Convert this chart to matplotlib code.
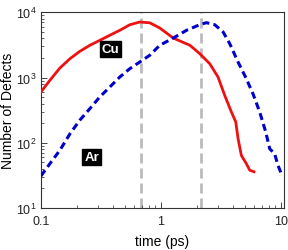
import numpy as np
import matplotlib
matplotlib.use("Agg")
import matplotlib.pyplot as plt
from matplotlib.ticker import LogLocator, FixedLocator, FixedFormatter, NullFormatter

plt.rcParams['font.family'] = ['Liberation Sans', 'DejaVu Sans']
plt.rcParams['mathtext.fontset'] = 'custom'
plt.rcParams['mathtext.rm'] = 'Liberation Sans'
plt.rcParams['mathtext.it'] = 'Liberation Sans'

# Cu cascade (solid red)
cu_t = [0.1, 0.119, 0.144, 0.175, 0.211, 0.256, 0.31, 0.376, 0.455, 0.552, 0.668,
        0.81, 0.98, 1.27, 1.75, 2.11, 2.56, 3.0, 3.41, 3.88, 4.22, 4.41, 4.7,
        5.17, 5.52, 5.99]
cu_n = [600, 910, 1400, 1950, 2520, 3120, 3720, 4450, 5300, 6450, 7100,
        6900, 5750, 4030, 3120, 2330, 1630, 1020, 536, 297, 209, 116, 64,
        48, 38, 36]

# Ar cascade (dashed blue)
ar_t = [0.1, 0.119, 0.144, 0.175, 0.211, 0.256, 0.31, 0.376, 0.455, 0.552, 0.668,
        0.81, 0.98, 1.27, 1.64, 2.11, 2.4, 2.82, 3.31, 3.76, 4.41, 5.17, 5.87,
        6.68, 7.5, 8.1, 8.9, 9.5, 10.1]
ar_n = [31, 48, 77, 138, 222, 334, 505, 718, 1020, 1370, 1730,
        2200, 3120, 4030, 5300, 6450, 6930, 6450, 4990, 3300, 1730, 960, 566,
        297, 147, 81, 68, 45, 34]

# peak times marked with grey lines
peak_t = [0.69, 2.15]

fig = plt.figure(figsize=(2.88, 2.51), dpi=100)
ax = fig.add_axes([0.142, 0.167, 0.844, 0.780])

for t in peak_t:
    ax.axvline(t, color='#bbbbbb', lw=2, dashes=(3.6, 1.8), zorder=1)

ax.plot(cu_t, cu_n, color='#ee1111', lw=2, zorder=3, solid_joinstyle='round')
ax.plot(ar_t, ar_n, color='#0000cc', lw=2.2, dashes=(2.3, 1.4), zorder=3)

ax.set_xscale('log')
ax.set_yscale('log')
ax.set_xlim(0.1, 10.65)
ax.set_ylim(10, 1e4)

ax.xaxis.set_major_locator(FixedLocator([0.1, 1, 10]))
ax.xaxis.set_major_formatter(FixedFormatter(['0.1', '1', '10']))
ax.xaxis.set_minor_locator(LogLocator(base=10, subs=np.arange(2, 10)))
ax.xaxis.set_minor_formatter(NullFormatter())
ax.yaxis.set_major_locator(FixedLocator([10, 100, 1000, 10000]))
ax.yaxis.set_major_formatter(FixedFormatter([r'$10^1$', r'$10^2$', r'$10^3$', r'$10^4$']))
ax.yaxis.set_minor_locator(LogLocator(base=10, subs=np.arange(2, 10)))
ax.yaxis.set_minor_formatter(NullFormatter())

ax.tick_params(which='both', direction='in', labelsize=9, colors='#222222')
ax.tick_params(axis='x', pad=5)
ax.tick_params(axis='y', pad=3)
ax.tick_params(which='major', length=4, width=0.6)
ax.tick_params(which='minor', length=2, width=0.5)
for s in ax.spines.values():
    s.set_linewidth(0.8)
    s.set_color('#333333')

ax.set_xlabel('time (ps)', fontsize=10, labelpad=5)
ax.set_ylabel('Number of Defects', fontsize=10)
ax.yaxis.set_label_coords(-0.105, 0.5)

box = dict(boxstyle='square,pad=0.15', fc='black', ec='black')
ax.text(0.38, 2750, 'Cu', color='white', fontsize=9.5, fontweight='bold',
        ha='center', va='center', bbox=box)
ax.text(0.266, 60, 'Ar', color='white', fontsize=9.5, fontweight='bold',
        ha='center', va='center', bbox=box)

fig.savefig('out.png', dpi=100)
